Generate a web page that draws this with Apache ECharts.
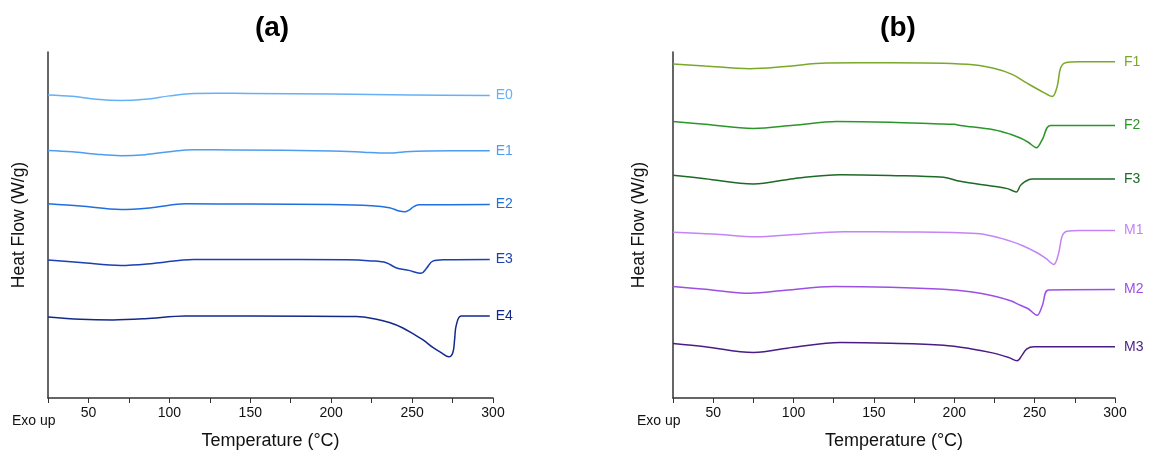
<!DOCTYPE html>
<html>
<head>
<meta charset="utf-8">
<script src="https://cdn.jsdelivr.net/npm/echarts@6/dist/echarts.min.js"></script>
<style>
  html, body { margin: 0; padding: 0; background: #fff; }
  #chart { width: 1149px; height: 455px; }
</style>
</head>
<body>
<div id="chart"></div>
<script>
// DSC curves, [temperature °C, heat flow (arbitrary, stacked offsets)]
const E0 = [[25,304],[40,302.5],[55,299.5],[70,298.3],[85,299.5],[100,303],[115,305.5],[130,305.7],[150,305.5],[200,304.8],[250,304],[298,303.3]];
const E1 = [[25,248.3],[40,247],[55,244.5],[70,243],[85,244],[100,247],[115,249],[140,248.8],[200,247.7],[220,246.5],[230,245.7],[240,246],[246,247],[260,247.7],[298,248]];
const E2 = [[25,194.7],[45,192.5],[70,189],[90,191],[110,194.7],[150,194.5],[200,194],[225,192.7],[236,190.7],[242,187.5],[245.3,186.7],[248.7,189],[251,192],[254.2,193.7],[298,194]];
const E3 = [[25,138.3],[45,136],[70,133],[90,135],[115,139],[150,139],[210,138.7],[225,137.5],[234,135.7],[240,130.7],[248,128],[255.6,125],[258.7,129.7],[262.8,137.3],[270,138.7],[298,139]];
const E4 = [[25,81.3],[45,79],[65,78.3],[85,79.5],[110,82.3],[150,82.3],[215.5,81.7],[228,79],[236,75.7],[244,70.5],[251,64],[257,58],[262.8,50.7],[268,45.5],[272.7,41.3],[275.2,45.7],[276.3,59],[277.2,72.3],[280.3,82.3],[298,82.3]];

const F1 = [[25,335],[45,333],[72.8,330.3],[95,332.5],[120.6,336],[160,336.2],[207.9,334.7],[224.5,330.7],[236,324.5],[245.3,315.7],[255.7,306.3],[260.9,302.3],[264,312.3],[266.1,330.7],[269.2,336.3],[278,337.3],[300,337.3]];
const F2 = [[25,277.3],[45,274.5],[75,270.3],[100,273.5],[127,277.3],[160,276.5],[193.3,274.7],[200,274.5],[203.7,273.3],[224.5,269],[235,264.5],[241.1,260.7],[246,256.5],[251.1,251],[254.7,259],[259.9,273.3],[300,273.3]];
const F3 = [[25,223.3],[45,220],[75,214.7],[100,220],[129,224],[160,223.2],[193.3,221.3],[203.7,217.3],[224.5,212.3],[233,210],[238.6,206.7],[241.1,213],[244,217],[248.4,219.7],[300,219.7]];
const M1 = [[25,166.3],[50,164.5],[77,161.7],[100,164],[131,166.7],[170,166.5],[214,165],[226,161.5],[234.9,157.3],[243,152.5],[251.5,145.7],[257,140],[261.9,134],[265,145.7],[267.1,162.3],[270.2,167.3],[278,168],[300,168]];
const M2 = [[25,111.7],[45,109],[72.8,105],[95,108],[125,111.7],[160,111],[193.3,109],[210,106.5],[224.5,102.3],[235,97.5],[241.1,93],[246,89.5],[251.5,83],[254.7,92.3],[258.8,108.3],[300,108.7]];
const M3 = [[25,54.7],[45,51.5],[75,45.7],[100,51],[129,55.7],[160,55],[193.3,53],[210,49.5],[224.5,45],[234,40.5],[239.1,37.3],[242.2,43],[245,49],[249.5,51.3],[300,51.3]];

const namesA = ['E0', 'E1', 'E2', 'E3', 'E4'];
const namesB = ['F1', 'F2', 'F3', 'M1', 'M2', 'M3'];
const colorsA = ['#66b0f7', '#4d9ef0', '#1f6fdf', '#1c3fb3', '#13298a'];
const colorsB = ['#7aa829', '#2a962a', '#1d6a25', '#c484f5', '#9c4fe5', '#4a1d86'];
const curvesA = [E0, E1, E2, E3, E4];
const curvesB = [F1, F2, F3, M1, M2, M3];

const chart = echarts.init(document.getElementById('chart'));
const font = 'Liberation Sans, Arial, sans-serif';

function xAxis(grid) {
    return {
        type: 'value', gridIndex: grid, min: 25, max: 300, interval: 25,
        name: 'Temperature (°C)', nameLocation: 'middle', nameGap: 34,
        nameTextStyle: { fontFamily: font, fontSize: 18, color: '#111' },
        axisLine: { lineStyle: { color: '#333', width: 1.5 } },
        axisTick: { length: 5, lineStyle: { color: '#333' } },
        axisLabel: {
            fontFamily: font, fontSize: 14, color: '#111', margin: 8,
            formatter: v => (v % 50 === 0 ? v : '')
        },
        splitLine: { show: false }
    };
}

function yAxis(grid, gap) {
    return {
        type: 'value', gridIndex: grid, min: 0, max: 347,
        name: 'Heat Flow (W/g)', nameLocation: 'middle', nameGap: gap,
        nameTextStyle: { fontFamily: font, fontSize: 17.5, color: '#111' },
        axisLine: { show: true, lineStyle: { color: '#333', width: 1.5 } },
        axisTick: { show: false }, axisLabel: { show: false },
        splitLine: { show: false }
    };
}

function makeSeries(names, curves, colors, idx, dist) {
    return names.map((n, i) => ({
        name: n, type: 'line', xAxisIndex: idx, yAxisIndex: idx,
        data: curves[i], smooth: 0.35, showSymbol: false,
        lineStyle: { color: colors[i], width: 1.5 },
        itemStyle: { color: colors[i] },
        endLabel: {
            show: true, formatter: '{a}', color: colors[i],
            fontFamily: font, fontSize: 14, distance: dist
        }
    }));
}

const option = {
    animation: false,
    title: [
        { text: '(a)', left: 267, top: 9, textAlign: 'center',
          textStyle: { fontFamily: font, fontSize: 28, fontWeight: 'bold', color: '#000' } },
        { text: '(b)', left: 893, top: 9, textAlign: 'center',
          textStyle: { fontFamily: font, fontSize: 28, fontWeight: 'bold', color: '#000' } }
    ],
    grid: [
        { left: 48, right: 656, top: 52, bottom: 56 },
        { left: 673, right: 34, top: 52, bottom: 56 }
    ],
    xAxis: [xAxis(0), xAxis(1)],
    yAxis: [yAxis(0, 20), yAxis(1, 25)],
    graphic: [
        { type: 'text', left: 12, top: 414, style: { text: 'Exo up', fontFamily: font, fontSize: 14, fill: '#111' } },
        { type: 'text', left: 637, top: 414, style: { text: 'Exo up', fontFamily: font, fontSize: 14, fill: '#111' } }
    ],
    series: makeSeries(namesA, curvesA, colorsA, 0, 6)
        .concat(makeSeries(namesB, curvesB, colorsB, 1, 9))
};

chart.setOption(option);
window.addEventListener('resize', () => chart.resize());
</script>
</body>
</html>
